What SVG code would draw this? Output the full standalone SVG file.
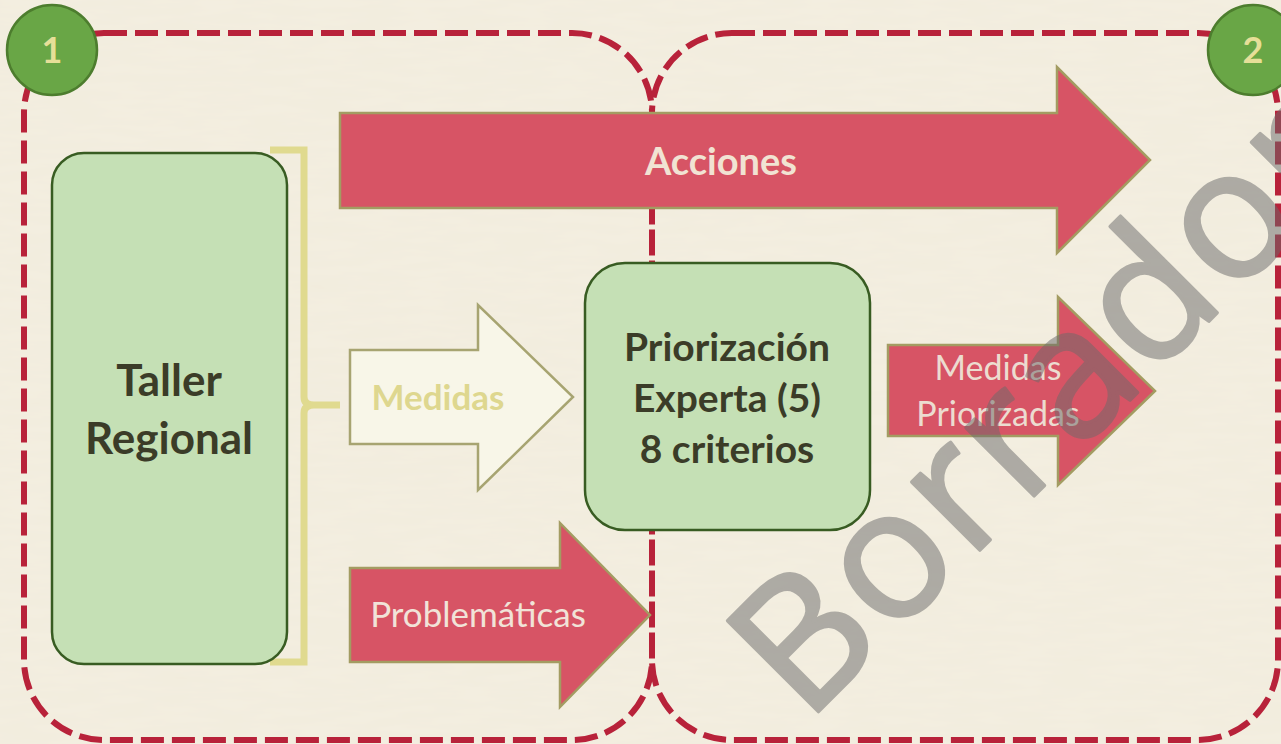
<svg xmlns="http://www.w3.org/2000/svg" width="1281" height="744" viewBox="0 0 1281 744">
<style>
.zone{fill:none;stroke:#b8223a;stroke-width:6;stroke-dasharray:23 8}
.green{fill:#c5e0b5;stroke:#385c22;stroke-width:2.5}
.red{fill:#d75465;stroke:#a39c62;stroke-width:2.5}
.pale{fill:#f8f6e8;stroke:#a7a471;stroke-width:2.5}
.badge{fill:#69a646;stroke:#4d7d2e;stroke-width:2.5}
.bt{font-family:Lato,"Open Sans",sans-serif;font-weight:bold;text-anchor:middle}
.rt{font-family:Lato,"Open Sans",sans-serif;text-anchor:middle}
</style>
<defs>
<filter id="paper" x="0" y="0" width="100%" height="100%">
<feTurbulence type="fractalNoise" baseFrequency="0.02 0.12" numOctaves="3" seed="4"/>
<feColorMatrix type="matrix" values="0 0 0 0 0.85 0 0 0 0 0.80 0 0 0 0 0.66 0 0 0 0.35 -0.08"/>
</filter>
</defs>
<rect width="1281" height="744" fill="#f3eee0"/>
<rect width="1281" height="744" filter="url(#paper)"/>
<g id="zones">
<path class="zone" d="M104,33 H572 A80,80 0 0 1 652,113 V660 A80,80 0 0 1 572,740 H104 A80,80 0 0 1 24,660 V113 A80,80 0 0 1 104,33 Z"/>
<path class="zone" d="M732,33 H1198 A80,80 0 0 1 1278,113 V660 A80,80 0 0 1 1198,740 H732 A80,80 0 0 1 652,660 V113 A80,80 0 0 1 732,33 Z"/>
</g>
<g id="connectors">
<path d="M270,150 H304 V397 Q304,405 314,405 H340 M314,405 Q304,405 304,413 V662 H270" fill="none" stroke="#e0da8f" stroke-width="7"/>
<g id="acciones">
<path class="red" d="M340,113 H1057 V67 L1150,160 L1057,253 V208 H340 Z"/>
<text class="bt" x="721" y="175" font-size="38" fill="#f1e3d3">Acciones</text>
</g>
<g id="medidas">
<path class="pale" d="M350,350 H478 V305 L573,397 L478,490 V444 H350 Z"/>
<text class="bt" x="438" y="410" font-size="35" fill="#ded78f">Medidas</text>
</g>
<g id="problematicas">
<path class="red" d="M350,568 H560 V523 L650,615 L560,707 V662 H350 Z"/>
<text class="rt" x="478" y="627" font-size="35" fill="#f1e3d8">Problemáticas</text>
</g>
<g id="medidas-priorizadas">
<path class="red" d="M888,345 H1058 V297 L1155,391 L1058,485 V436 H888 Z"/>
<text class="rt" x="998" y="380" font-size="34" fill="#ecdcd0">Medidas</text>
<text class="rt" x="998" y="426" font-size="34" fill="#ecdcd0">Priorizadas</text>
</g>
</g>
<g id="taller">
<rect class="green" x="52" y="153" width="235" height="511" rx="32"/>
<text class="bt" x="169" y="396" font-size="44" fill="#3b3c28">Taller</text>
<text class="bt" x="169" y="454" font-size="44" fill="#3b3c28">Regional</text>
</g>
<g id="priorizacion">
<rect class="green" x="585" y="263" width="285" height="267" rx="40"/>
<text class="bt" x="727" y="361" font-size="39" fill="#3b3c28">Priorización</text>
<text class="bt" x="727" y="412" font-size="39" fill="#3b3c28">Experta (5)</text>
<text class="bt" x="727" y="463" font-size="39" fill="#3b3c28">8 criterios</text>
</g>
<g id="badge1">
<circle class="badge" cx="52" cy="50" r="45"/>
<text class="bt" x="52" y="63" font-size="36" fill="#e6df98">1</text>
</g>
<g id="badge2">
<circle class="badge" cx="1253" cy="50" r="45"/>
<text class="bt" x="1253" y="63" font-size="36" fill="#e6df98">2</text>
</g>
<g id="watermark" opacity="0.5">
<text transform="translate(806,724) rotate(-45)" x="0" y="0" font-family="'Open Sans',sans-serif" font-size="180" letter-spacing="3" fill="#6a6a6a" stroke="#6a6a6a" stroke-width="3.5" stroke-linejoin="round">Borrador</text>
</g>
</svg>
